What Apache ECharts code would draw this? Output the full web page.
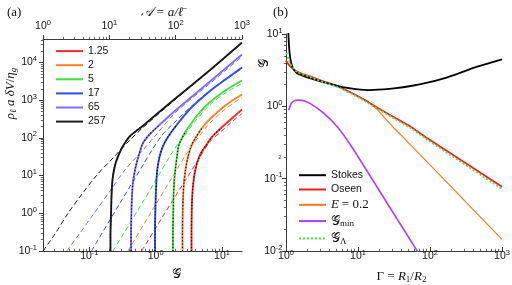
<!DOCTYPE html>
<html><head><meta charset="utf-8">
<script src="https://cdn.jsdelivr.net/npm/echarts@6/dist/echarts.min.js"></script>
<style>html,body{margin:0;padding:0;background:#fff}#c{width:512px;height:285px}</style>
</head><body><div id="c"></div>
<script>
// ---------- Panel (a) data : [G, rho a dV / eta] ----------
const params = ['1.25', '2', '5', '17', '65', '257'];
const paramColors = ['#ff2a2a', '#ff7f2a', '#3ee03e', '#2f4cff', '#7d6dff', '#1a1a1a'];
const solid125 = [[3.467,0.1],[3.467,0.319],[3.49,1.08],[3.55,2.70],[3.65,5.30],[3.85,11.0],[4.20,21.6],[4.82,39.8],[5.80,64.9],[7.06,106],[9.33,172],[13.2,298],[20,566]];
const dashed125 = [[0.615,0.1],[1.16,0.625],[2.32,4.41],[4.66,31.1],[6.59,80.3],[9.33,139],[13.2,241],[20,444]];
const solid2 = [[2.535,0.1],[2.535,0.319],[2.553,1.08],[2.60,3.05],[2.672,6.76],[2.813,14.1],[3.017,27.5],[3.44,61],[4.05,106],[4.99,183],[6.59,317],[11.5,746],[20,1416]];
const dashed2 = [[0.382,0.1],[0.820,0.958],[1.64,7.19],[2.77,33.1],[3.52,61],[4.66,119],[6.59,248],[11.5,603],[20,1180]];
const solid5 = [[1.82,0.1],[1.82,0.319],[1.84,1.08],[1.86,3.05],[1.908,7.64],[1.989,15.9],[2.09,31.1],[2.21,61],[2.41,88],[2.86,152],[3.65,281],[4.66,486],[6.59,896],[11.5,1866],[20,3335]];
const dashed5 = [[0.227,0.1],[0.644,2.03],[1.16,11.7],[1.64,33.1],[2.06,61],[2.58,99.4],[3.65,234],[6.59,769],[11.5,1600],[20,2775]];
const solid17 = [[0.976,0.1],[0.976,0.319],[0.986,1.08],[1.0035,3.05],[1.028,7.64],[1.064,15.9],[1.142,31.1],[1.29,61],[1.53,106],[2.02,207],[3.29,585],[6.59,1754],[11.5,3650],[20,7360]];
const dashed17 = [[0.1076,0.1],[0.290,1.875],[0.644,19.1],[0.880,47.8],[1.29,127],[2.02,281],[3.29,640],[6.59,1808],[11.5,3540],[20,6930]];
const solid65 = [[0.425,0.1],[0.425,0.319],[0.431,1.08],[0.440,3.05],[0.455,6.76],[0.488,14.1],[0.541,29.3],[0.644,73.3],[0.820,127],[1.16,227],[2.02,550],[6.59,3135],[20,16300]];
const dashed65 = [[0.0455,0.1],[0.0723,0.300],[0.1216,1.08],[0.205,3.90],[0.344,14.1],[0.644,47.8],[0.976,112],[2.02,486],[6.59,2775],[20,14400]];
const solid257 = [[0.208,0.1],[0.208,0.265],[0.212,0.9],[0.216,3.05],[0.223,7.6],[0.235,14.1],[0.252,23],[0.280,37.4],[0.321,61],[0.410,112],[0.644,211],[2.02,1143],[6.59,6324],[20,34000]];
const dashed257 = [[0.020,0.1],[0.0303,0.282],[0.0476,1.0],[0.0775,3.25],[0.130,10.4],[0.227,29.3],[0.410,88],[0.644,189],[2.02,1076],[6.59,6065],[20,32900]];
const fitLimit = 250; // dotted fit curves are drawn up to this ordinate

// ---------- Panel (b) data : [Gamma, G] ----------
const stokes = [[1.075,11],[1.085,9],[1.10,7],[1.12,5.6],[1.14,4.8],[1.18,4.0],[1.223,3.53],[1.3,3.15],[1.435,2.86],[2.2,2.44],[4.64,1.97],[7.92,1.77],[13.5,1.68],[23,1.72],[31.6,1.77],[54,1.91],[91.8,2.12],[156,2.44],[267,2.92],[454,3.53],[1000,4.47]];
const oseen = [[1,4.27],[1.16,3.53],[1.435,3.01],[2.2,2.57],[3.37,2.19],[5.16,1.91],[7.92,1.55],[12.1,1.24],[18.5,0.96],[31.6,0.705],[54,0.522],[91.8,0.361],[1000,0.0775]];
const e02 = [[1,4.27],[1.16,3.53],[1.435,3.01],[2.2,2.57],[3.37,2.19],[5.16,1.91],[7.92,1.55],[12.1,1.24],[15,1.08],[18.5,0.90],[23,0.71],[31.6,0.50],[41.2,0.385],[100,0.155],[1000,0.0145]];
const gMin = [[1.09,0.88],[1.15,1.03],[1.21,1.13],[1.3,1.19],[1.435,1.22],[1.72,1.20],[2.2,1.08],[3.37,0.80],[5.16,0.523],[8,0.285],[20.2,0.066],[70,0.0092]];
const gLambda = [[1.02,5.5],[1.1,4.3],[1.2,3.6],[1.435,2.98],[2.2,2.52],[3.37,2.14],[5.16,1.85],[7.92,1.51],[12.1,1.2],[18.5,0.93],[31.6,0.68],[54,0.50],[91.8,0.345],[1000,0.072]];

// ---------- axes ranges & ticks ----------
const gRange = [0.02, 20], aRange = [1, 1000], vRange = [0.1, 42000];
const gamRange = [1, 1000], gRangeB = [0.01, 10];
const gTicks = [0.1, 1, 10], aTicks = [1, 10, 100, 1000], vTicks = [0.1, 1, 10, 100, 1000, 10000];
const gamTicks = [1, 10, 100, 1000], gTicksB = [0.01, 0.1, 1, 10];

const SANS = '"Liberation Sans", Arial, sans-serif';
const SERIF = '"Liberation Serif", "DejaVu Serif", serif';
const AX = '#3a3a3a';
const lg = Math.log10;
const L = a => a.map(p => [lg(p[0]), lg(p[1])]);
function minors(r) {
  const lo = lg(r[0]), hi = lg(r[1]), out = [];
  for (let n = Math.floor(lo); n <= Math.ceil(hi); n++)
    for (let k = 2; k <= 9; k++) { const v = n + lg(k); if (v > lo + 1e-9 && v < hi - 1e-9) out.push(v); }
  return out;
}
const tickRich = {
  b: { fontSize: 10.5, fontFamily: SANS, color: '#111' },
  s: { fontSize: 7.5, fontFamily: SANS, color: '#111', padding: [0, 0, 7, 0] }
};
const fmt = v => '{b|10}{s|' + Math.round(v) + '}';

function axisPair(grid, range, ticks, pos, inside, margin, showLine, extra) {
  const base = {
    type: 'value', gridIndex: grid, position: pos, min: lg(range[0]), max: lg(range[1]),
    splitLine: { show: false }, silent: true
  };
  const major = Object.assign({}, base, {
    axisLine: { show: showLine, onZero: false, lineStyle: { color: AX, width: 1 } },
    axisTick: { show: true, inside: inside, length: 4, customValues: ticks.map(lg), lineStyle: { color: AX, width: 1 } },
    axisLabel: Object.assign({ show: true, customValues: ticks.map(lg), formatter: fmt, rich: tickRich, margin: margin }, extra || {})
  });
  const minor = Object.assign({}, base, {
    axisLine: { show: false, onZero: false },
    axisTick: { show: true, inside: inside, length: 2.2, customValues: minors(range), lineStyle: { color: AX, width: 0.8 } },
    axisLabel: { show: false }
  });
  return [major, minor];
}

const xAxis = [].concat(
  axisPair(0, gRange, gTicks, 'bottom', true, 5.5, true, { verticalAlign: 'middle' }),
  axisPair(0, aRange, aTicks, 'top', false, 12.5, true, { verticalAlign: 'middle' }),
  axisPair(1, gamRange, gamTicks, 'bottom', true, 5.5, true, { verticalAlign: 'middle' })
);
const yAxis = [].concat(
  axisPair(0, vRange, vTicks, 'left', false, 6, true, { align: 'right' }),
  axisPair(1, gRangeB, gTicksB, 'left', false, 3.5, true, { align: 'right' })
);

const series = [];
const solids = [solid125, solid2, solid5, solid17, solid65, solid257];
const dasheds = [dashed125, dashed2, dashed5, dashed17, dashed65, dashed257];
params.forEach((p, i) => {
  const c = paramColors[i];
  series.push({ type: 'line', name: p + ' asym', xAxisIndex: 0, yAxisIndex: 0, data: L(dasheds[i]), symbol: 'none', smooth: 0.3,
    lineStyle: { color: c, width: 1, type: [5, 3] }, itemStyle: { color: c }, z: 2 });
  series.push({ type: 'line', name: p, xAxisIndex: 0, yAxisIndex: 0, data: L(solids[i]), symbol: 'none', smooth: 0.3,
    lineStyle: { color: c, width: 1.9 }, itemStyle: { color: c }, z: 3 });
  series.push({ type: 'line', name: p + ' fit', xAxisIndex: 0, yAxisIndex: 0, data: L(solids[i].filter(d => d[1] <= fitLimit)), symbol: 'none', smooth: 0.3,
    lineStyle: { color: '#111', width: 1.2, type: [1.2, 2] }, itemStyle: { color: '#111' }, z: 4 });
});
const bSeries = [
  ['Stokes', stokes, '#000000', 1.8, 'solid', 5],
  ['Oseen', oseen, '#ff1a1a', 1.8, 'solid', 4],
  ['E = 0.2', e02, '#ff7a1a', 1.2, 'solid', 3],
  ['𝒢min', gMin, '#b43cff', 1.6, 'solid', 3],
  ['𝒢Λ', gLambda, '#44ee44', 1.8, [2, 2], 6]
];
bSeries.forEach(s => series.push({ type: 'line', name: s[0], xAxisIndex: 4, yAxisIndex: 2, data: L(s[1]), symbol: 'none', smooth: 0.3,
  lineStyle: { color: s[2], width: s[3], type: s[4] }, itemStyle: { color: s[2] }, z: s[5] }));

const option = {
  animation: false,
  backgroundColor: '#fff',
  grid: [
    { left: 43, top: 39, width: 199, height: 212, containLabel: false, outerBoundsMode: 'none' },
    { left: 286, top: 34, width: 216, height: 217, containLabel: false, outerBoundsMode: 'none' }
  ],
  xAxis: xAxis, yAxis: yAxis, series: series,
  legend: [
    { data: params, orient: 'vertical', left: 50, top: 40.5, itemWidth: 27, itemHeight: 14, itemGap: 2.9,
      itemStyle: { opacity: 0 },
      textStyle: { fontFamily: SANS, fontSize: 10.5, color: '#111' }, selectedMode: false },
    { data: ['Stokes', 'Oseen', 'E = 0.2', '𝒢min', '𝒢Λ'], orient: 'vertical', left: 293, top: 164.7, itemWidth: 27, itemHeight: 12, itemGap: 3.3,
      selectedMode: false, itemStyle: { opacity: 0 },
      formatter: n => n === 'E = 0.2' ? '{e|E} {r|= 0.2}' : n === '𝒢min' ? '{g|𝒢}{sub|min}' : n === '𝒢Λ' ? '{g|𝒢}{sub|Λ}' : n,
      textStyle: { fontFamily: SANS, fontSize: 10.5, color: '#111',
        rich: { e: { fontFamily: SERIF, fontStyle: 'italic', fontSize: 13, color: '#111' }, r: { fontFamily: SERIF, fontSize: 13, color: '#111' },
                g: { fontFamily: SERIF, fontSize: 13, color: '#111' }, sub: { fontFamily: SERIF, fontSize: 9, color: '#111', padding: [6, 0, 0, 0] } } } }
  ],
  graphic: [
    { type: 'text', left: 7, top: 6, style: { text: '(a)', font: '13px ' + SERIF, fill: '#111' } },
    { type: 'text', left: 273, top: 6, style: { text: '(b)', font: '13px ' + SERIF, fill: '#111' } },
    { type: 'text', x: 162, y: 13, style: { text: '𝒜 = a/ℓ̄', font: 'italic 13px ' + SERIF, fill: '#111', align: 'center', verticalAlign: 'middle', textAlign: 'center', textVerticalAlign: 'middle' } },
    { type: 'text', x: 176.7, y: 275, style: { text: '𝒢', font: '13px ' + SERIF, fill: '#111', align: 'center', verticalAlign: 'middle', textAlign: 'center', textVerticalAlign: 'middle' } },
    { type: 'text', x: 401.5, y: 276.5, style: { text: '{u|Γ = }{i|R}{s|1}{u|/}{i|R}{s|2}', fill: '#111', align: 'center', verticalAlign: 'middle', textAlign: 'center', textVerticalAlign: 'middle',
        rich: { u: { fontFamily: SERIF, fontSize: 13 }, i: { fontFamily: SERIF, fontStyle: 'italic', fontSize: 13 }, s: { fontFamily: SERIF, fontSize: 9, padding: [6, 0, 0, 0] } } } },
    { type: 'text', x: 265, y: 63, rotation: Math.PI / 2, style: { text: '𝒢', font: '13px ' + SERIF, fill: '#111', align: 'center', verticalAlign: 'middle', textAlign: 'center', textVerticalAlign: 'middle' } },
    { type: 'text', x: 11, y: 93.5, rotation: Math.PI / 2, style: { text: '{i|ρ}{s|ℓ}{i| a δV}{u|/}{i|η}{s|g}', fill: '#111', align: 'center', verticalAlign: 'middle', textAlign: 'center', textVerticalAlign: 'middle',
        rich: { u: { fontFamily: SERIF, fontSize: 13 }, i: { fontFamily: SERIF, fontStyle: 'italic', fontSize: 13 }, s: { fontFamily: SERIF, fontStyle: 'italic', fontSize: 9, padding: [6, 0, 0, 0] } } } },
    { type: 'text', x: 280, y: 157, style: { text: '2', font: '6px ' + SANS, fill: '#333', align: 'center', verticalAlign: 'middle', textAlign: 'center', textVerticalAlign: 'middle' } }
  ]
};
const chart = echarts.init(document.getElementById('c'), null, { renderer: 'canvas' });
chart.setOption(option);
</script></body></html>
